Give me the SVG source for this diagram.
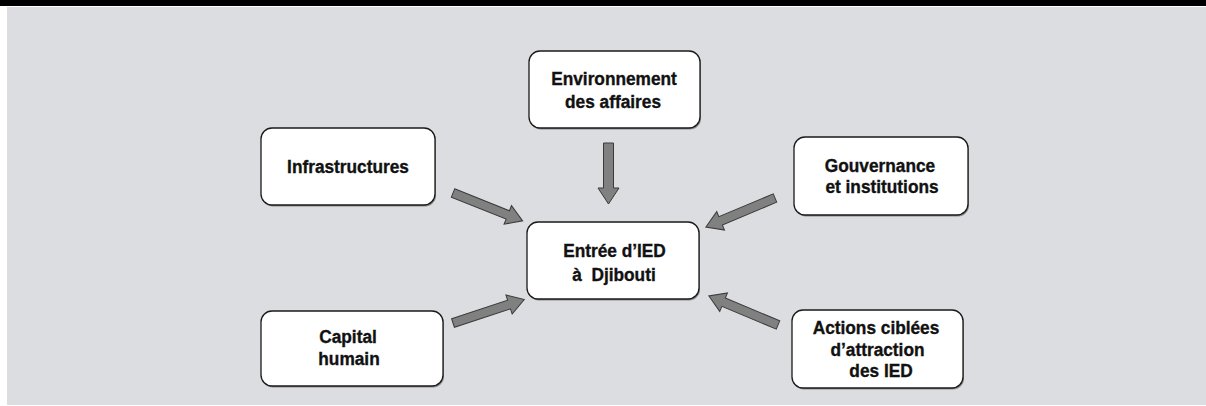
<svg xmlns="http://www.w3.org/2000/svg" xmlns:xlink="http://www.w3.org/1999/xlink" width="1206" height="406" viewBox="0 0 1206 406">
<style>
.box{fill:#ffffff;stroke:#1a1a1a;stroke-width:1.3}
.shadow{fill:#8a8a8a}
.lbl{font-family:"Liberation Sans",Arial,sans-serif;font-weight:bold;font-size:18px;fill:#111111;stroke:#111111;stroke-width:0.35;text-anchor:middle;white-space:pre}
.arr{fill:#808080;stroke:#3a3a3a;stroke-width:1}
</style>
<defs>
<path id="arrow75" d="M0,-4.5 H59 V-10 L75,0 L59,10 V4.5 H0 Z"/>
</defs>
<rect x="0" y="0" width="1206" height="406" fill="#ffffff"/>
<rect x="0" y="0" width="1206" height="6" fill="#000000"/>
<rect x="7" y="7" width="1199" height="398" fill="#dcdde0"/>

<g id="connectors">
  <path class="arr" d="M603.5,143 H613.5 V188 H619 L608.5,204 L598,188 H603.5 Z"/>
  <use class="arr" xlink:href="#arrow75" transform="translate(453,193) rotate(21.8)"/>
  <use class="arr" xlink:href="#arrow75" transform="translate(775,198) rotate(157.2)"/>
  <use class="arr" xlink:href="#arrow75" transform="translate(453,323) rotate(-18.2)"/>
  <use class="arr" xlink:href="#arrow75" transform="translate(778,325) rotate(-157.2)"/>
</g>

<g id="node-environnement">
  <rect class="shadow" x="530" y="52.5" width="171" height="77" rx="11"/>
  <rect class="box" x="529" y="51" width="171" height="77" rx="11"/>
  <text class="lbl" transform="translate(614,85) scale(0.96,1)">Environnement</text>
  <text class="lbl" transform="translate(613,108) scale(0.96,1)">des affaires</text>
</g>

<g id="node-infrastructures">
  <rect class="shadow" x="262" y="129.5" width="174" height="77" rx="11"/>
  <rect class="box" x="261" y="128" width="174" height="77" rx="11"/>
  <text class="lbl" transform="translate(348,173) scale(0.96,1)">Infrastructures</text>
</g>

<g id="node-gouvernance">
  <rect class="shadow" x="795" y="138.5" width="174" height="78" rx="11"/>
  <rect class="box" x="794" y="137" width="174" height="78" rx="11"/>
  <text class="lbl" transform="translate(880,172) scale(0.96,1)">Gouvernance</text>
  <text class="lbl" transform="translate(882,193) scale(0.96,1)">et institutions</text>
</g>

<g id="node-centre">
  <rect class="shadow" x="528" y="223.5" width="172" height="77" rx="11"/>
  <rect class="box" x="527" y="222" width="172" height="77" rx="11"/>
  <text class="lbl" transform="translate(614.5,257) scale(0.96,1)">Entrée d’IED</text>
  <text class="lbl" transform="translate(614,281) scale(0.96,1)">à  Djibouti</text>
</g>

<g id="node-capital">
  <rect class="shadow" x="262" y="312.5" width="182" height="75" rx="11"/>
  <rect class="box" x="261" y="311" width="182" height="75" rx="11"/>
  <text class="lbl" transform="translate(348,343) scale(0.96,1)">Capital</text>
  <text class="lbl" transform="translate(349,365) scale(0.96,1)">humain</text>
</g>

<g id="node-actions">
  <rect class="shadow" x="793" y="311.5" width="171" height="78" rx="11"/>
  <rect class="box" x="792" y="310" width="171" height="78" rx="11"/>
  <text class="lbl" transform="translate(876,334) scale(0.96,1)">Actions ciblées</text>
  <text class="lbl" transform="translate(877.5,356) scale(0.96,1)">d’attraction</text>
  <text class="lbl" transform="translate(881,377) scale(0.96,1)">des IED</text>
</g>
</svg>
